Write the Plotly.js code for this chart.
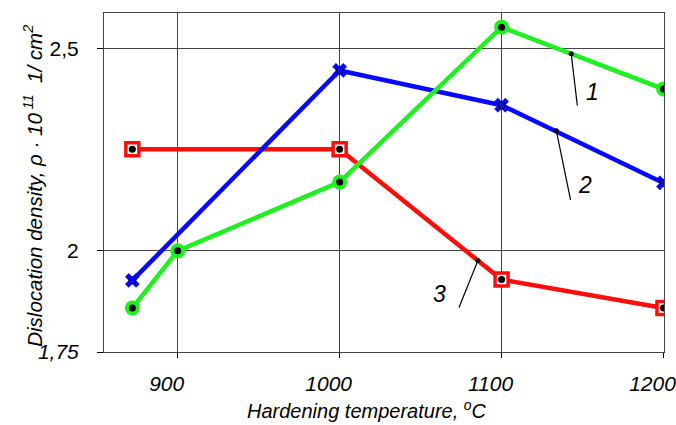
<!DOCTYPE html>
<html>
<head>
<meta charset="utf-8">
<script src="https://cdn.plot.ly/plotly-3.0.1.min.js"></script>
<style>html,body{margin:0;padding:0;background:#fff;}#chart{width:676px;height:425px;}</style>
</head>
<body>
<div id="chart"></div>
<script>
// ---- data ----
const series1Temps = [872, 900, 1000, 1100, 1200];
const series1 = [1.859, 2.0, 2.170, 2.553, 2.400];   // curve 1 (green)
const series2Temps = [872, 1000, 1100, 1200];
const series2 = [1.927, 2.446, 2.360, 2.168];         // curve 2 (blue)
const series3Temps = [872, 1000, 1100, 1200];
const series3 = [2.251, 2.251, 1.929, 1.859];         // curve 3 (red)

const xTickVals = [900, 1000, 1100, 1200];
const xTickText = ['900', '1000', '1100', '1200'];
const yTickVals = [1.75, 2, 2.5];
const yTickText = ['<i>1,75</i>', '2', '2,5'];

// callouts: label text, dot on the curve, leader end, label position
const calloutLabels = ['1', '2', '3'];
const calloutDotX = [1143, 1133.8, 1085.4];
const calloutDotY = [2.487, 2.297, 1.976];
const calloutEndX = [1146.8, 1142.6, 1073.7];
const calloutEndY = [2.359, 2.126, 1.860];
const calloutTextX = [1156, 1151.3, 1061.8];
const calloutTextY = [2.393, 2.163, 1.893];

// ---- styles ----
const GREEN = '#1ff01f', BLUE = '#0808ff', RED = '#ff0c0c';
const FONT = 'Liberation Sans, Arial, sans-serif';

const traces = [
  { x: series3Temps, y: series3, mode: 'lines+markers',
    line: { color: RED, width: 4.5 },
    marker: { symbol: 'square', size: 13, color: '#ffffff', line: { color: RED, width: 3.5 } } },
  { x: series3Temps, y: series3, mode: 'markers',
    marker: { symbol: 'circle', size: 7, color: '#000' } },
  { x: series2Temps, y: series2, mode: 'lines+markers',
    line: { color: BLUE, width: 4.5 },
    marker: { symbol: 'x', size: 13, color: BLUE, line: { width: 0 } } },
  { x: series2Temps, y: series2, mode: 'markers',
    marker: { symbol: 'circle', size: 7, color: BLUE, line: { color: '#000050', width: 1 } } },
  { x: series1Temps, y: series1, mode: 'lines+markers',
    line: { color: GREEN, width: 4.5 },
    marker: { symbol: 'circle', size: 15, color: GREEN } },
  { x: series1Temps, y: series1, mode: 'markers',
    marker: { symbol: 'circle', size: 7, color: '#000' } },
  { x: calloutDotX, y: calloutDotY, mode: 'markers',
    marker: { symbol: 'circle', size: 5, color: '#000' } }
];

const shapes = calloutLabels.map((_, i) => ({
  type: 'line', xref: 'x', yref: 'y',
  x0: calloutDotX[i], y0: calloutDotY[i], x1: calloutEndX[i], y1: calloutEndY[i],
  line: { color: '#000', width: 1.2 }
}));

const annotations = calloutLabels.map((t, i) => ({
  x: calloutTextX[i], y: calloutTextY[i], xref: 'x', yref: 'y',
  text: t, showarrow: false,
  font: { family: FONT, size: 23, color: '#000', style: 'italic' }
}));

annotations.push({
  xref: 'paper', yref: 'paper', x: 0.47, y: -0.171,
  xanchor: 'center', yanchor: 'middle', showarrow: false,
  text: 'Hardening temperature, <sup>o</sup>C',
  font: { family: FONT, size: 20, color: '#000', style: 'italic' }
});
annotations.push({
  xref: 'paper', yref: 'paper', x: -0.127, y: 0.49,
  xanchor: 'center', yanchor: 'middle', showarrow: false, textangle: -90,
  text: 'Dislocation density, ρ · 10<sup> 11</sup>  1/ cm<sup>2</sup>',
  font: { family: FONT, size: 20.5, color: '#000', style: 'italic' }
});

const layout = {
  width: 676, height: 425,
  margin: { l: 104, r: 12, t: 13, b: 73 },
  paper_bgcolor: '#fff', plot_bgcolor: '#fff',
  showlegend: false,
  xaxis: {
    range: [854.5, 1200.3], tickvals: xTickVals, ticktext: xTickText,
    showgrid: true, gridcolor: '#444', gridwidth: 1, zeroline: false,
    showline: true, linecolor: '#444', linewidth: 1, mirror: true,
    ticks: 'outside', ticklen: 5, tickcolor: '#000',
    ticklabelstandoff: 8, ticklabelshift: -11, ticklabeloverflow: 'allow',
    tickfont: { family: FONT, size: 21, color: '#000', style: 'italic' }
  },
  yaxis: {
    range: [1.75, 2.588], tickvals: yTickVals, ticktext: yTickText,
    showgrid: true, gridcolor: '#444', gridwidth: 1, zeroline: false,
    showline: true, linecolor: '#444', linewidth: 1, mirror: true,
    ticks: 'outside', ticklen: 6, tickcolor: '#000',
    ticklabelstandoff: 14,
    tickfont: { family: FONT, size: 21, color: '#000' }
  },
  shapes: shapes,
  annotations: annotations
};

Plotly.newPlot('chart', traces, layout, { displayModeBar: false, staticPlot: true });
</script>
</body>
</html>
